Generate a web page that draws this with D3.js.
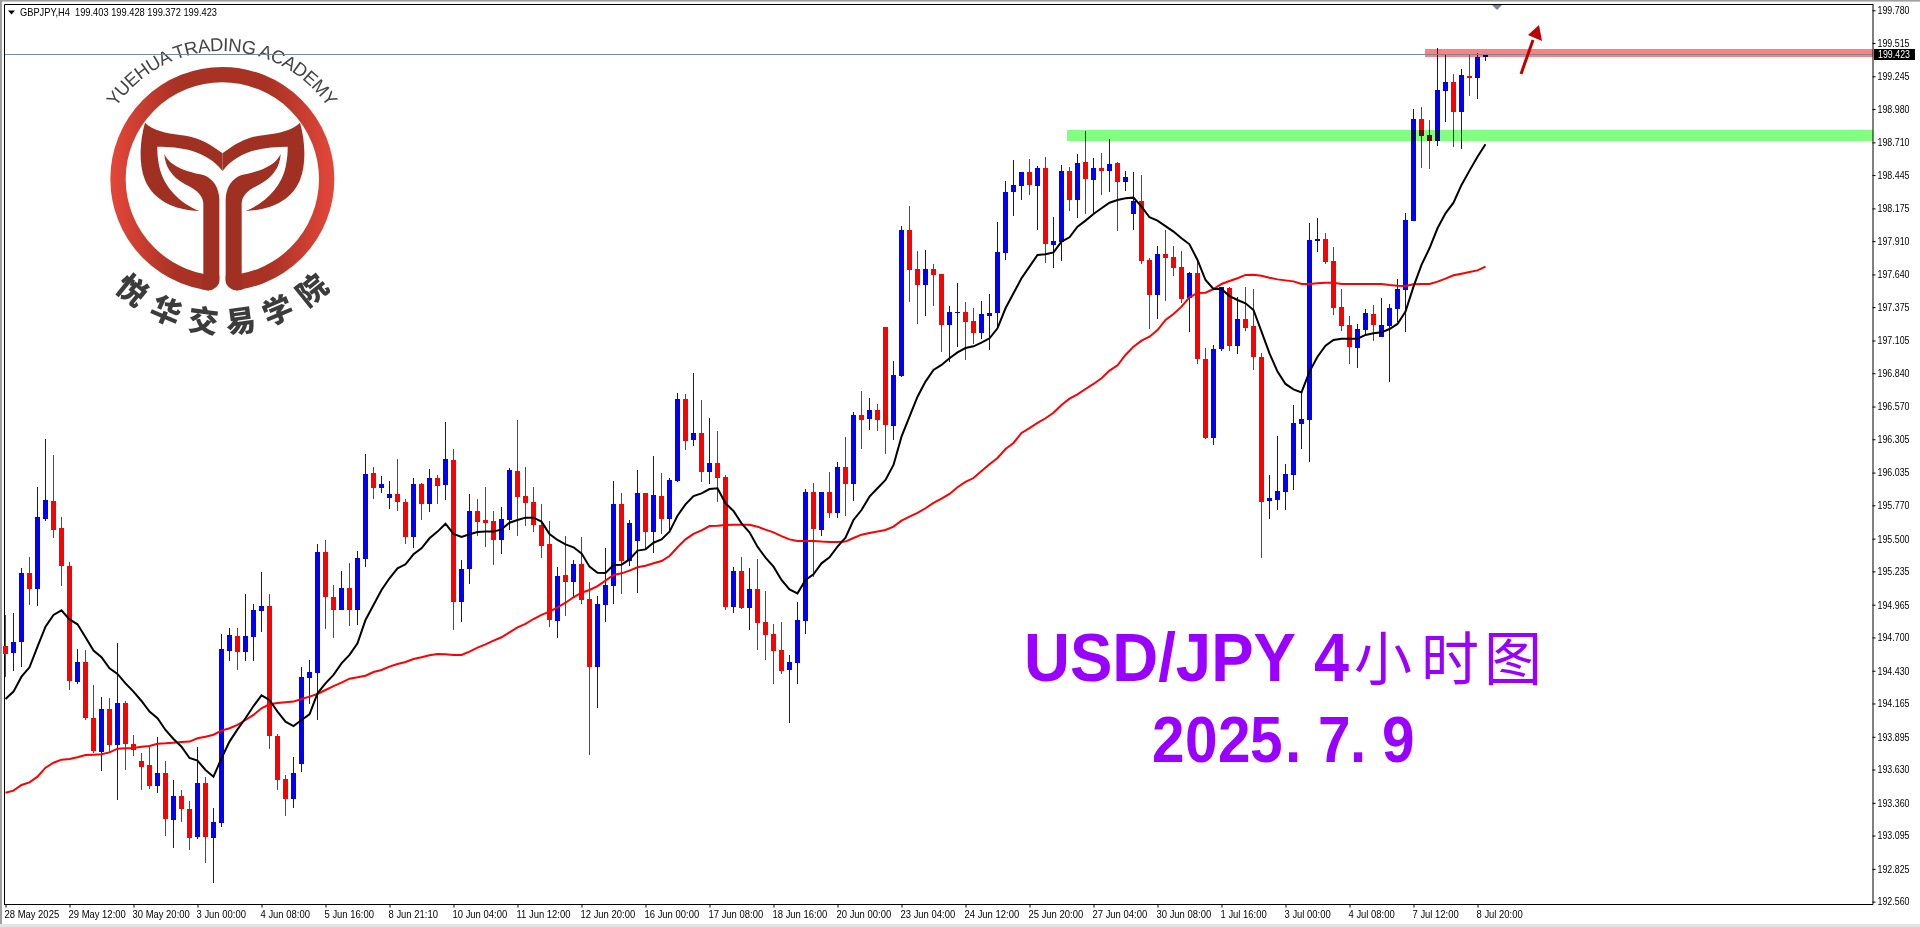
<!DOCTYPE html>
<html><head><meta charset="utf-8">
<style>
html,body{margin:0;padding:0;background:#fff;overflow:hidden}
svg{display:block}
text{font-family:"Liberation Sans",Arial,sans-serif}
</style>
<script src="https://cdnjs.cloudflare.com/ajax/libs/d3/7.8.5/d3.min.js"></script>
</head><body><svg id="c" width="1920" height="927"></svg>
<script>
const opens=[194.630,194.576,194.666,195.222,195.092,195.659,195.805,195.586,195.278,194.339,194.501,194.047,193.772,194.120,193.829,194.169,193.837,193.699,193.667,193.496,
193.602,193.221,193.415,193.310,193.083,193.521,193.075,193.197,194.590,194.711,194.582,194.703,194.914,194.954,193.901,193.553,193.391,193.675,194.371,194.412,
195.392,195.027,194.922,195.100,194.922,195.335,196.032,195.910,195.829,195.862,195.797,195.513,195.943,195.781,195.991,195.935,196.137,194.987,195.254,195.724,
195.651,195.643,195.489,195.651,196.048,195.845,195.797,195.611,195.457,194.833,195.206,195.149,195.295,195.011,194.460,194.963,195.116,195.781,195.319,195.481,
195.870,195.554,195.845,195.659,195.967,196.631,196.299,196.356,196.040,196.113,195.999,194.946,195.238,194.938,195.092,194.825,194.728,194.598,194.436,194.493,
194.833,195.878,195.570,195.878,195.708,196.080,195.943,196.502,196.469,196.542,197.214,196.412,196.817,198.000,197.684,197.555,197.684,197.644,197.231,197.328,
197.336,197.263,197.166,197.303,197.328,197.814,198.308,198.356,198.470,198.356,198.502,197.879,197.903,198.478,198.243,198.551,198.405,198.502,198.478,198.543,
198.389,198.130,198.235,197.757,197.474,197.806,197.781,197.700,197.449,197.652,196.955,196.315,197.036,197.530,197.060,197.279,197.222,196.971,195.805,195.813,
195.878,196.016,196.429,196.461,197.911,197.927,197.749,197.376,197.231,197.044,197.190,197.320,197.133,197.222,197.360,197.514,198.073,198.899,198.770,198.721,
199.126,199.199,198.956,199.247,199.231,199.403];
const closes=[194.566,194.663,195.222,195.092,195.675,195.813,195.570,195.278,194.347,194.501,194.047,193.780,194.120,193.829,194.169,193.837,193.788,193.650,193.496,193.602,
193.229,193.415,193.310,193.075,193.521,193.083,193.205,194.606,194.720,194.582,194.711,194.922,194.954,193.901,193.545,193.391,193.602,194.379,194.420,195.392,
195.027,194.922,195.100,194.922,195.343,196.024,195.910,195.943,195.862,195.797,195.513,195.943,195.781,195.991,195.926,196.145,194.987,195.254,195.724,195.635,
195.627,195.489,195.659,196.056,195.837,195.789,195.611,195.440,194.841,195.197,195.149,195.295,195.003,194.460,194.971,195.125,195.781,195.319,195.627,195.870,
195.554,195.854,195.659,195.975,196.631,196.291,196.356,196.040,196.113,195.991,194.946,195.238,194.938,195.092,194.817,194.720,194.590,194.428,194.501,194.841,
195.878,195.578,195.878,195.708,196.080,195.943,196.502,196.461,196.542,196.461,196.421,196.826,198.000,197.676,197.555,197.684,197.636,197.231,197.336,197.336,
197.255,197.166,197.320,197.328,197.822,198.308,198.365,198.470,198.365,198.502,197.887,197.911,198.478,198.243,198.543,198.413,198.502,198.478,198.535,198.389,
198.429,198.235,197.749,197.474,197.806,197.773,197.692,197.441,197.652,196.955,196.315,197.036,197.538,197.060,197.279,197.206,196.971,195.797,195.829,195.886,
196.024,196.437,196.469,197.919,197.927,197.741,197.368,197.222,197.052,197.198,197.328,197.231,197.231,197.368,197.522,198.081,198.899,198.761,198.721,199.134,
199.199,198.956,199.256,199.231,199.401,199.423];
const highs=[194.882,194.900,195.260,195.351,195.918,196.307,196.178,195.675,195.311,194.606,194.598,194.315,194.217,194.209,194.655,194.185,193.910,193.764,193.820,193.893,
193.699,193.545,193.464,193.375,193.812,193.569,193.318,194.728,194.776,194.776,195.052,194.971,195.230,195.052,193.918,193.586,193.731,194.460,194.517,195.457,
195.489,195.125,195.238,195.303,195.400,196.186,196.080,196.007,195.967,196.145,195.821,195.991,195.951,196.064,196.016,196.445,196.223,195.327,195.862,195.821,
195.916,195.724,195.756,196.072,196.461,196.080,195.918,195.781,195.643,195.270,195.521,195.327,195.513,195.149,195.035,195.424,195.967,195.870,195.651,196.056,
195.870,196.169,196.032,195.991,196.680,196.672,196.842,196.623,196.477,196.372,196.016,195.270,195.351,195.262,195.335,195.076,194.809,194.825,194.558,194.987,
195.902,195.951,195.878,196.040,196.121,196.323,196.526,196.696,196.639,196.591,197.214,196.939,198.032,198.194,197.830,197.838,197.725,197.644,197.384,197.571,
197.417,197.368,197.425,197.482,198.065,198.397,198.567,198.470,198.575,198.518,198.591,198.105,198.527,198.510,198.616,198.802,198.583,198.624,198.737,198.551,
198.478,198.470,198.446,197.773,197.870,198.000,197.870,197.830,197.660,197.757,197.044,197.069,197.538,197.538,197.457,197.538,197.522,197.001,196.016,196.331,
196.105,196.583,196.688,198.057,198.097,197.976,197.862,197.522,197.303,197.239,197.360,197.393,197.449,197.401,197.603,198.138,198.980,198.996,198.891,199.474,
199.426,199.264,199.304,199.426,199.434,199.428];
const lows=[194.377,194.431,194.460,194.963,194.954,195.643,195.505,195.116,194.274,194.323,194.031,193.761,193.618,193.772,193.383,193.626,193.739,193.464,193.472,193.440,
193.091,192.994,193.205,192.978,193.067,192.873,192.711,193.164,194.509,194.436,194.509,194.509,194.744,193.796,193.464,193.253,193.318,193.610,194.161,194.031,
194.768,194.695,194.922,194.792,194.800,195.270,195.821,195.870,195.740,195.724,195.457,195.424,195.651,195.716,195.781,195.813,194.760,194.825,195.133,195.521,
195.432,195.287,195.376,195.570,195.521,195.602,195.554,195.343,194.784,194.695,194.873,195.027,194.971,193.748,194.128,194.825,194.971,195.052,195.278,195.060,
195.408,195.384,195.538,195.570,195.959,196.218,196.250,195.959,195.943,195.797,194.922,194.898,194.930,194.760,194.598,194.517,194.323,194.404,194.007,194.323,
194.728,195.192,195.521,195.667,195.667,195.683,195.805,196.226,196.380,196.372,196.186,196.299,196.809,197.417,197.239,197.303,197.384,197.012,196.931,197.052,
196.947,197.077,197.117,197.028,197.206,197.757,198.113,198.243,198.284,198.000,197.733,197.692,197.749,198.154,198.097,198.130,198.122,198.284,198.308,197.992,
198.316,198.000,197.725,197.198,197.279,197.425,197.627,197.409,197.174,196.915,196.307,196.259,197.020,197.020,196.996,197.182,196.866,195.343,195.659,195.732,
195.732,195.894,196.226,196.121,197.822,197.725,197.312,197.182,196.915,196.882,197.150,197.101,197.133,196.769,197.255,197.174,198.073,198.502,198.494,198.680,
198.875,198.672,198.656,199.085,199.061,199.372];
const maBlack=[194.201,194.261,194.382,194.458,194.625,194.787,194.882,194.919,194.846,194.806,194.701,194.593,194.539,194.450,194.404,194.328,194.261,194.185,194.099,194.045,
193.950,193.877,193.815,193.723,193.702,193.626,193.572,193.721,193.856,193.955,194.045,194.144,194.231,194.193,194.099,194.018,193.982,194.031,194.077,194.247,
194.328,194.396,194.490,194.558,194.652,194.841,194.963,195.084,195.179,195.260,195.292,195.373,195.422,195.503,195.557,195.621,195.538,195.513,195.535,195.554,
195.557,195.557,195.575,195.629,195.651,195.670,195.670,195.638,195.538,195.489,195.454,195.430,195.381,195.273,195.224,195.222,195.287,195.289,195.332,195.403,
195.413,195.467,195.494,195.557,195.686,195.778,195.845,195.867,195.902,195.908,195.786,195.724,195.624,195.551,195.435,195.346,195.273,195.165,195.089,195.057,
195.165,195.211,195.300,195.349,195.435,195.508,195.651,195.732,195.840,195.908,195.975,196.097,196.326,196.488,196.650,196.772,196.866,196.907,196.961,197.009,
197.044,197.058,197.087,197.123,197.204,197.366,197.487,197.609,197.703,197.798,197.803,197.819,197.906,197.941,198.027,198.076,198.130,198.176,198.221,198.243,
198.257,198.262,198.189,198.103,198.076,198.032,197.987,197.933,197.884,197.757,197.595,197.522,197.522,197.465,197.433,197.406,197.352,197.177,197.001,196.853,
196.753,196.709,196.685,196.853,196.974,197.063,197.109,197.120,197.120,197.120,197.150,197.163,197.171,197.198,197.239,197.339,197.541,197.717,197.852,198.014,
198.135,198.221,198.365,198.481,198.594,198.694];
const maRed=[193.442,193.459,193.505,193.526,193.572,193.645,193.685,193.710,193.715,193.729,193.748,193.750,193.753,193.769,193.799,193.802,193.804,193.815,193.820,193.839,
193.842,193.847,193.853,193.856,193.883,193.896,193.912,193.945,193.964,193.991,194.031,194.072,194.126,194.158,194.169,194.174,194.180,194.201,194.220,194.242,
194.274,194.306,194.333,194.366,194.377,194.390,194.420,194.436,194.463,194.485,194.501,194.525,194.539,194.555,194.566,194.563,194.558,194.558,194.585,194.617,
194.644,194.674,194.701,194.741,194.782,194.809,194.849,194.882,194.909,194.944,194.981,195.025,195.062,195.084,195.116,195.160,195.206,195.219,195.241,195.268,
195.281,195.300,195.319,195.359,195.430,195.494,195.538,195.567,195.602,195.605,195.611,195.613,195.613,195.613,195.597,195.573,195.551,195.521,195.494,195.481,
195.481,195.481,195.476,195.473,195.473,195.476,195.505,195.532,195.546,195.557,195.570,195.597,195.646,195.678,195.708,195.746,195.789,195.824,195.862,195.916,
195.959,195.991,196.048,196.102,196.153,196.226,196.275,196.356,196.396,196.437,196.475,196.520,196.583,196.634,196.669,196.712,196.753,196.799,196.861,196.904,
196.988,197.055,197.104,197.136,197.190,197.271,197.320,197.379,197.455,197.490,197.492,197.522,197.563,197.587,197.609,197.636,197.638,197.630,197.614,197.600,
197.592,197.584,197.563,197.563,197.568,197.573,197.573,197.563,197.563,197.563,197.563,197.563,197.563,197.555,197.549,197.546,197.560,197.563,197.563,197.582,
197.606,197.633,197.646,197.660,197.673,197.703];
const priceTicks=["199.780","199.515","199.245","198.980","198.710","198.445","198.175","197.910","197.640","197.375","197.105","196.840","196.570","196.305","196.035","195.770","195.500","195.235","194.965","194.700","194.430","194.165","193.895","193.630","193.360","193.095","192.825","192.560"];
const timeLabels=["28 May 2025","29 May 12:00","30 May 20:00","3 Jun 00:00","4 Jun 08:00","5 Jun 16:00","8 Jun 21:10","10 Jun 04:00","11 Jun 12:00","12 Jun 20:00","16 Jun 00:00","17 Jun 08:00","18 Jun 16:00","20 Jun 00:00","23 Jun 04:00","24 Jun 12:00","25 Jun 20:00","27 Jun 04:00","30 Jun 08:00","1 Jul 16:00","3 Jul 00:00","4 Jul 08:00","7 Jul 12:00","8 Jul 20:00"];
const lastPrice=199.423, resistance=[199.464,199.401], support=[198.810,198.721];
const symbolText="GBPJPY,H4  199.403 199.428 199.372 199.423";

const svg=d3.select("#c");
const x=d3.scaleLinear().domain([0,185]).range([5.5,1485.5]);
const y=d3.scaleLinear().domain([199.863,192.573]).range([0,900]);
const BLUE="#0000ff",RED="#ff0000";
const defs=svg.append("defs");
const grad=defs.append("linearGradient").attr("id","ring").attr("gradientUnits","userSpaceOnUse").attr("x1",331).attr("x2",1003).attr("y1",0).attr("y2",0);
[[0,"#e4473a"],[.3,"#a83224"],[.7,"#a83224"],[1,"#e4473a"]].forEach(s=>grad.append("stop").attr("offset",s[0]).attr("stop-color",s[1]));

// window frame
svg.append("rect").attr("x",0).attr("y",0).attr("width",1920).attr("height",1.6).attr("fill","#a0a0a0");
svg.append("rect").attr("x",0).attr("y",0).attr("width",2).attr("height",927).attr("fill","#a0a0a0");
svg.append("rect").attr("x",0).attr("y",924).attr("width",1920).attr("height",3).attr("fill","#e4e4e4");
svg.append("line").attr("x1",4.5).attr("x2",1873).attr("y1",4.5).attr("y2",4.5).attr("stroke","#000");
svg.append("line").attr("x1",4.5).attr("x2",4.5).attr("y1",4.5).attr("y2",904.5).attr("stroke","#000");

// logo
const logo=svg.append("g").attr("transform","scale(0.33333)");
logo.append("circle").attr("cx",667).attr("cy",537).attr("r",313).attr("fill","none").attr("stroke","url(#ring)").attr("stroke-width",46);
logo.append("path").attr("fill","#fff").attr("d","M658,600 L677,600 L677,845 Q677,860 710,875 L710,890 L625,890 L625,875 Q658,860 658,845 Z");
const tail="M667.5,460 C620,425 590,410 540,405 C500,400 455,390 435,368 C420,420 415,490 435,540 C460,600 520,630 598,633 C540,610 490,560 478,500 C472,470 472,455 472,440 C540,440 620,450 667.5,513 Z";
const stem="M493,462 C510,500 560,515 610,525 C640,535 658,565 658,600 L658,840 Q658,860 625,872 L605,868 L610,822 L610,610 C608,580 580,565 555,553 C515,530 495,500 493,462 Z";
[tail,stem].forEach(d=>{
  logo.append("path").attr("d",d).attr("fill","#a03022");
  logo.append("path").attr("d",d).attr("fill","#a03022").attr("transform","translate(1335,0) scale(-1,1)");
});
const arcR=128, arcA=70*Math.PI/180;
defs.append("path").attr("id","arc").attr("d",`M${222-arcR*Math.sin(arcA)},${179-arcR*Math.cos(arcA)} A${arcR},${arcR} 0 0 1 ${222+arcR*Math.sin(arcA)},${179-arcR*Math.cos(arcA)}`);
svg.append("text").attr("font-size",18.5).attr("fill","#444")
  .append("textPath").attr("href","#arc").attr("startOffset","50%").attr("text-anchor","middle")
  .attr("textLength",250).attr("lengthAdjust","spacing")
  .text("YUEHUA TRADING ACADEMY");
const cnChars=["悦","华","交","易","学","院"], cnAngles=[39,23,7.5,-7.5,-23,-39];
cnChars.forEach((c,i)=>{
  const a=cnAngles[i]*Math.PI/180;
  svg.append("text").text(c)
    .attr("transform",`translate(${222-141*Math.sin(a)},${179+141*Math.cos(a)}) rotate(${cnAngles[i]})`)
    .attr("text-anchor","middle").attr("dominant-baseline","central")
    .attr("font-size",30).attr("font-weight",900).attr("fill","#3c3c3c")
    .style("font-family",'"Noto Sans CJK SC"');
});

// title
const PURPLE="#9900ff";
svg.append("text").text("USD/JPY").attr("x",1024).attr("y",681).attr("font-size",69).attr("font-weight","bold").attr("fill",PURPLE)
  .attr("textLength",272).attr("lengthAdjust","spacingAndGlyphs");
svg.append("text").text("4").attr("x",1314).attr("y",681).attr("font-size",69).attr("font-weight","bold").attr("fill",PURPLE)
  .attr("textLength",35).attr("lengthAdjust","spacingAndGlyphs");
svg.append("text").text("小时图").attr("x","1354 1421 1484").attr("y",680).attr("font-size",58).attr("fill",PURPLE).style("font-family",'"Noto Sans CJK SC"');
const dateX=[1152,1185,1218,1250,1285,1318,1350,1382], dateS=0.9;
svg.append("text").text("2025.7.9").attr("transform",`scale(${dateS},1)`).attr("x",dateX.map(v=>v/dateS).join(" ")).attr("y",762).attr("font-size",65).attr("font-weight","bold").attr("fill",PURPLE);

// candles
const idx=d3.range(opens.length);
const candles=svg.append("g").attr("shape-rendering","crispEdges");
candles.selectAll("line").data(idx).join("line")
  .attr("x1",i=>x(i)).attr("x2",i=>x(i)).attr("y1",i=>y(highs[i])).attr("y2",i=>y(lows[i]))
  .attr("stroke",i=>closes[i]>=opens[i]?BLUE:RED);
candles.selectAll("rect").data(idx).join("rect")
  .attr("x",i=>x(i)-2.5).attr("width",5)
  .attr("y",i=>y(Math.max(opens[i],closes[i])))
  .attr("height",i=>Math.max(1,Math.abs(y(opens[i])-y(closes[i]))))
  .attr("fill",i=>closes[i]>=opens[i]?BLUE:RED);

// moving averages
const lineGen=d3.line().x((d,i)=>x(i)).y(d=>y(d));
svg.append("path").attr("d",lineGen(maRed)).attr("fill","none").attr("stroke",RED).attr("stroke-width",2);
svg.append("path").attr("d",lineGen(maBlack)).attr("fill","none").attr("stroke","#000").attr("stroke-width",2);

// zones
svg.append("rect").attr("x",1425).attr("width",448).attr("y",y(resistance[0])).attr("height",y(resistance[1])-y(resistance[0]))
  .attr("fill","#ff8080").style("mix-blend-mode","multiply").attr("shape-rendering","crispEdges");
svg.append("rect").attr("x",1067).attr("width",806).attr("y",y(support[0])).attr("height",y(support[1])-y(support[0]))
  .attr("fill","#80ff80").style("mix-blend-mode","multiply").attr("shape-rendering","crispEdges");
svg.append("line").attr("x1",5).attr("x2",1873).attr("y1",Math.round(y(lastPrice))+.5).attr("y2",Math.round(y(lastPrice))+.5).attr("stroke","#778899");

// arrow, marker
svg.append("path").attr("d","M1521,74 L1533,40").attr("stroke","#c00000").attr("stroke-width",3).attr("fill","none");
svg.append("path").attr("d","M1539,25 L1528,35 L1542,41 Z").attr("fill","#c00000");
svg.append("path").attr("d","M1492,5 L1502,5 L1497,10 Z").attr("fill","#778899");

// axes
const yAxis=d3.axisRight(y).tickValues(priceTicks.map(Number)).tickFormat((d,i)=>priceTicks[i]).tickSize(3).tickPadding(2);
const gy=svg.append("g").attr("transform","translate(1872.5,0)").call(yAxis);
gy.select(".domain").attr("d","M0.5,4V904.5").attr("stroke","#000");
gy.selectAll("text").attr("font-size",10.5).style("font-family",'"Liberation Sans"').attr("fill","#000").attr("textLength",32).attr("lengthAdjust","spacingAndGlyphs");
const tickIdx=timeLabels.map((d,i)=>i*8);
const xAxis=d3.axisBottom(x).tickValues(tickIdx).tickFormat((d,i)=>timeLabels[i]).tickSize(3).tickPadding(3);
const gx=svg.append("g").attr("transform","translate(0,904.5)").call(xAxis);
gx.select(".domain").attr("d","M4,0H1873").attr("stroke","#000");
gx.selectAll("text").attr("font-size",10.5).style("font-family",'"Liberation Sans"').attr("fill","#000").attr("text-anchor","start").attr("x",-1.5)
  .attr("textLength",function(){return this.getComputedTextLength()*0.9;}).attr("lengthAdjust","spacingAndGlyphs");

// price badge
svg.append("rect").attr("x",1874).attr("y",49).attr("width",41).attr("height",11).attr("fill","#000");
svg.append("text").text(lastPrice.toFixed(3)).attr("x",1878).attr("y",58.2).attr("font-size",10.5).attr("fill","#fff").attr("textLength",32).attr("lengthAdjust","spacingAndGlyphs");

// header
svg.append("path").attr("d","M8,10.5 L15,10.5 L11.5,14.5 Z").attr("fill","#000");
svg.append("text").text(symbolText).attr("x",20).attr("y",16).attr("font-size",10.5).attr("fill","#000").attr("textLength",197).attr("lengthAdjust","spacingAndGlyphs").attr("xml:space","preserve");
</script></body></html>
